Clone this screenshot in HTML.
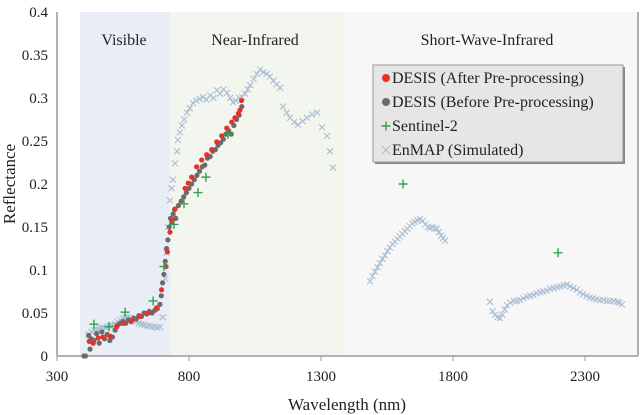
<!DOCTYPE html>
<html><head><meta charset="utf-8"><style>
html,body{margin:0;padding:0;background:#fff;}
svg{display:block;font-family:"Liberation Serif",serif;}
</style></head><body>
<svg id="chart" width="640" height="415" viewBox="0 0 640 415" xmlns="http://www.w3.org/2000/svg">
<g id="bands"></g>
<g id="axes"></g>
<g id="marks"></g>
<g id="legend"></g>
</svg>
<script>
const xTicks=[300,800,1300,1800,2300];
const yTicks=[0,0.05,0.1,0.15,0.2,0.25,0.3,0.35,0.4];
const bandNames=["Visible","Near-Infrared","Short-Wave-Infrared"];
const bandStarts=[387,728,1383];
const bandEnds=[728,1383,2500];
const s2Wl=[440,497,558,664,705,743,781,834,864,948,1611,2198];
const s2Val=[0.037,0.034,0.051,0.064,0.104,0.153,0.177,0.190,0.208,0.258,0.200,0.120];
const afterWl=[422,437,456,474,501,526,551,583,614,645,677,696,713,718,728,738,747,785,797,810,829,848,867,886,905,924,943,962,974,987,993,999];
const afterVal=[0.017,0.015,0.021,0.022,0.023,0.034,0.038,0.041,0.046,0.050,0.056,0.077,0.104,0.121,0.144,0.158,0.171,0.195,0.201,0.208,0.220,0.228,0.234,0.240,0.249,0.256,0.265,0.272,0.277,0.282,0.286,0.297];
const beforeWl=[402,408,420,425,430,440,450,460,470,480,490,500,510,520,530,540,550,560,570,580,590,600,610,620,630,640,650,660,670,680,690,695,700,705,710,715,720,725,730,735,740,745,750,760,770,780,790,800,810,820,830,840,850,860,870,880,890,900,910,920,930,940,950,960,970,980,990,1000];
const beforeVal=[0,0,0.024,0.008,0.020,0.018,0.026,0.015,0.028,0.020,0.025,0.018,0.022,0.030,0.036,0.038,0.040,0.038,0.042,0.040,0.044,0.043,0.047,0.046,0.050,0.049,0.052,0.050,0.053,0.055,0.060,0.070,0.085,0.095,0.110,0.125,0.135,0.150,0.160,0.155,0.165,0.170,0.160,0.175,0.180,0.185,0.190,0.195,0.200,0.205,0.210,0.215,0.220,0.222,0.230,0.232,0.238,0.240,0.245,0.248,0.252,0.258,0.262,0.258,0.268,0.275,0.280,0.290];
const enmapWl=[420,430,440,450,460,470,480,490,500,510,520,530,540,550,560,570,580,590,600,610,620,630,640,650,660,670,680,690,700,710,715,720,728,734,739,747,755,758,765,773,782,792,803,815,828,840,853,866,880,893,906,918,931,944,956,967,978,990,1001,1012,1022,1032,1045,1057,1069,1082,1094,1107,1120,1132,1145,1156,1170,1183,1198,1213,1230,1247,1266,1285,1304,1323,1334,1345,
1486,1495,1505,1514,1523,1533,1542,1552,1561,1571,1580,1590,1599,1608,1618,1627,1636,1646,1655,1665,1675,1685,1695,1705,1713,1722,1730,1739,1747,1755,1762,1770,
1940,1950,1959,1968,1978,1987,1996,2005,2017,2030,2042,2054,2067,2080,2092,2105,2117,2130,2142,2155,2168,2181,2194,2207,2219,2232,2244,2256,2269,2281,2293,2306,2318,2330,2343,2356,2369,2383,2395,2408,2421,2430,2440];
const enmapVal=[0.025,0.028,0.030,0.031,0.032,0.033,0.033,0.034,0.035,0.036,0.037,0.040,0.042,0.044,0.045,0.045,0.044,0.042,0.040,0.038,0.037,0.036,0.035,0.035,0.034,0.034,0.033,0.034,0.045,0.090,0.120,0.150,0.181,0.195,0.205,0.224,0.238,0.251,0.260,0.268,0.275,0.283,0.288,0.294,0.297,0.299,0.301,0.298,0.303,0.300,0.309,0.305,0.310,0.306,0.300,0.295,0.297,0.300,0.301,0.305,0.310,0.315,0.322,0.328,0.333,0.330,0.328,0.325,0.320,0.316,0.312,0.290,0.283,0.277,0.272,0.269,0.273,0.277,0.281,0.283,0.266,0.256,0.238,0.219,
0.087,0.093,0.098,0.103,0.108,0.113,0.117,0.122,0.126,0.130,0.133,0.136,0.139,0.142,0.145,0.148,0.151,0.154,0.156,0.158,0.159,0.157,0.153,0.150,0.149,0.150,0.148,0.148,0.144,0.140,0.137,0.134,
0.063,0.052,0.048,0.045,0.044,0.048,0.054,0.059,0.062,0.064,0.064,0.065,0.067,0.069,0.070,0.071,0.073,0.074,0.075,0.076,0.078,0.079,0.080,0.081,0.082,0.083,0.081,0.079,0.077,0.074,0.072,0.070,0.068,0.067,0.066,0.065,0.065,0.064,0.064,0.064,0.063,0.062,0.060];

const NS="http://www.w3.org/2000/svg";
const X0=57,XR=638,Y0=356,YT=12;
const xs=nm=>X0+(nm-300)*0.264;
const ys=v=>Y0-v*860;
function mk(tag,attrs,parent,text){const e=document.createElementNS(NS,tag);for(const k in attrs)e.setAttribute(k,attrs[k]);if(text!==undefined)e.textContent=text;parent.appendChild(e);return e;}
const bands=document.getElementById('bands'),axes=document.getElementById('axes'),marks=document.getElementById('marks'),legend=document.getElementById('legend');
const bandFill=["#e9edf6","#f3f6ee","#f7f7f7"];
const bandLabelX=[124,255,487];
for(let i=0;i<bandNames.length;i++){
  const r=mk('rect',{x:xs(bandStarts[i]),y:YT,width:Math.min(XR,xs(bandEnds[i]))-xs(bandStarts[i]),height:Y0-YT,fill:bandFill[i]},bands);
  
  
  const t=mk('text',{x:bandLabelX[i],y:45,'font-size':16,'text-anchor':'middle',fill:'#222'},bands,bandNames[i]);
  
  
}
let a=mk('line',{x1:X0,y1:YT,x2:X0,y2:Y0,stroke:'#999','stroke-width':1.5},axes);

a=mk('line',{x1:X0,y1:Y0,x2:XR,y2:Y0,stroke:'#999','stroke-width':1.5},axes);

a=mk('line',{x1:XR,y1:YT,x2:XR,y2:Y0,stroke:'#999','stroke-width':1.5},axes);

for(const v of yTicks){
  const t=mk('text',{x:48,y:ys(v)+5,'font-size':15,'text-anchor':'end',fill:'#222'},axes,String(v));
  
}
for(const v of xTicks){
  mk('line',{x1:xs(v),y1:Y0,x2:xs(v),y2:Y0+5,stroke:'#999'},axes);
  const t=mk('text',{x:xs(v),y:381,'font-size':15,'text-anchor':'middle',fill:'#222'},axes,String(v));
  
}
let t=mk('text',{x:347,y:410,'font-size':17,'text-anchor':'middle',fill:'#222'},axes,'Wavelength (nm)');

t=mk('text',{x:0,y:0,'font-size':17,'text-anchor':'middle',fill:'#222',transform:'translate(15,184) rotate(-90)'},axes,'Reflectance');

function cross(x,y,s,col,g){mk('path',{d:`M${x-s} ${y-s}L${x+s} ${y+s}M${x-s} ${y+s}L${x+s} ${y-s}`,stroke:col,'stroke-width':1.1,fill:'none'},g);}
function plus(x,y,s,col,g){mk('path',{d:`M${x-s} ${y}L${x+s} ${y}M${x} ${y-s}L${x} ${y+s}`,stroke:col,'stroke-width':1.4,fill:'none'},g);}
const gE=mk('g',{},marks);
for(let i=0;i<enmapWl.length;i++)cross(xs(enmapWl[i]),ys(enmapVal[i]),3,'#a9bed4',gE);
const gB=mk('g',{},marks);
for(let i=0;i<beforeWl.length;i++)mk('circle',{cx:xs(beforeWl[i]),cy:ys(beforeVal[i]),r:2.6,fill:'#6e6a6a'},gB);
const gA=mk('g',{},marks);
for(let i=0;i<afterWl.length;i++)mk('circle',{cx:xs(afterWl[i]),cy:ys(afterVal[i]),r:2.6,fill:'#e8302a'},gA);
const gS=mk('g',{},marks);
for(let i=0;i<s2Wl.length;i++)plus(xs(s2Wl[i]),ys(s2Val[i]),4.5,'#2ea152',gS);
mk('rect',{x:375,y:67,width:250,height:97,fill:'#888'},legend);
const lb=mk('rect',{x:373,y:65,width:250,height:97,fill:'#e6e6e6',stroke:'#999'},legend);

const names=["DESIS (After Pre-processing)","DESIS (Before Pre-processing)","Sentinel-2","EnMAP (Simulated)"];
for(let i=0;i<4;i++){
  const y=78+i*24;
  const g=mk('g',{},legend);
  
  if(i==0)mk('circle',{cx:386,cy:y,r:4,fill:'#e8302a'},g);
  if(i==1)mk('circle',{cx:386,cy:y,r:4,fill:'#6e6a6a'},g);
  if(i==2)plus(386,y,4.5,'#2ea152',g);
  if(i==3)cross(386,y,4,'#a9bed4',g);
  mk('text',{x:392,y:y+5,'font-size':16,fill:'#222'},g,names[i]);
}
</script>
</body></html>
